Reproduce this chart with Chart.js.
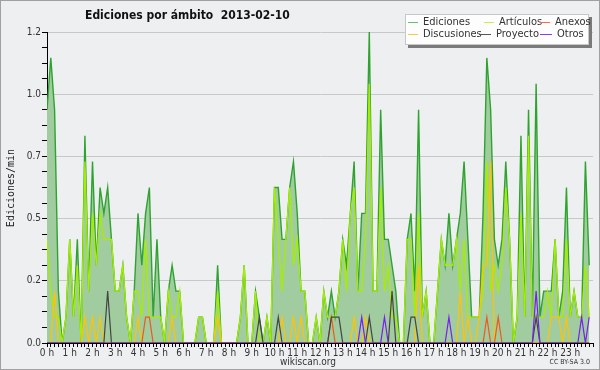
<!DOCTYPE html>
<html>
<head>
<meta charset="utf-8">
<script src="https://cdn.jsdelivr.net/npm/chart.js@4.4.1/dist/chart.umd.min.js"></script>
<style>
  html, body { margin: 0; padding: 0; background: #eeeff0; }
  canvas { display: block; }
</style>
</head>
<body>
<canvas id="myChart" width="600" height="370"></canvas>
<script>
const chartTitle = 'Ediciones por ámbito  2013-02-10';
const yTitle = 'Ediciones/min';
const xTitle = 'wikiscan.org';
const licence = 'CC BY-SA 3.0';
const stepMinutes = 10; // one value every 10 minutes, 144 per day

// edits per minute, one row = 4 hours
const ediciones = [
  .9,1.1,.9,.2,0,.1,.4,.1,.4,0,.8,.2,.7,.3,.6,.5,.6,.4,.2,.2,.3,.1,0,.2,
  .5,.3,.5,.6,.1,.4,.1,0,.2,.3,.2,.2,0,0,0,0,.1,.1,0,0,0,.3,0,0,
  0,0,0,.1,.3,0,0,.2,.1,0,.1,0,.6,.6,.4,.4,.6,.7,.5,.2,.2,0,0,.1,
  0,.2,.1,.2,.1,.2,.4,.3,.5,.7,.2,.5,.5,1.2,.2,.2,.9,.4,.4,.3,.2,0,0,.4,
  .5,.2,.9,.1,.2,0,0,.2,.4,.3,.5,.3,.4,.5,.7,.4,.1,.1,.1,.5,1.1,.9,.4,.3,
  .4,.7,.4,0,.1,.8,.1,.9,.1,1.0,.1,.2,.2,.2,.4,.1,.2,.6,.1,.2,.1,.1,.7,.3
];
const articulos = [
  .4,.2,.1,.1,0,.1,.4,.1,.3,0,.7,.2,.5,.3,.5,.4,.4,.4,.2,.2,.3,.1,0,.2,
  .2,.1,.4,.1,.1,.1,.1,0,.2,.1,.1,.2,0,0,0,0,.1,.1,0,0,0,.2,0,0,
  0,0,0,.1,.3,0,0,.2,0,0,.1,0,.6,.4,.2,.4,.6,.3,.4,.2,.2,0,0,.1,
  0,.2,.1,.1,.1,.2,.4,.2,.5,.6,.2,.2,.4,1.0,.2,.2,.6,.2,.3,.1,.1,0,0,.4,
  .4,.1,.5,.1,.2,0,0,.2,.4,.3,.3,.3,.4,.2,.4,.1,.1,.1,.1,.2,.7,.2,.3,.2,
  .3,.6,.4,0,.1,.5,.1,.8,.1,.1,.1,.1,.2,.1,.4,.1,.1,.4,.1,.2,.1,.1,.3,.1
];
const discusiones = [
  0,0,.2,0,0,0,0,0,0,0,.1,0,.1,0,.1,0,0,0,0,0,0,0,0,0,
  .1,0,0,0,0,0,0,0,0,.1,0,0,0,0,0,0,0,0,0,0,0,.1,0,0,
  0,0,0,0,0,0,0,0,0,0,0,0,0,0,.1,0,0,.1,0,.1,0,0,0,0,
  0,0,0,0,0,0,0,0,0,.1,0,0,.1,0,0,0,0,0,0,0,0,0,0,0,
  0,0,.3,0,0,0,0,0,0,0,0,0,0,.2,0,.1,0,0,.1,.3,.3,.7,0,0,
  0,0,0,0,0,0,0,0,0,0,0,0,0,.1,.1,.1,0,.1,0,0,0,0,0,0
];
const anexos = [
  0,0,0,0,0,0,0,0,0,0,0,0,0,0,0,0,0,0,0,0,0,0,0,0,
  0,0,.1,.1,0,0,0,0,0,0,0,0,0,0,0,0,0,0,0,0,0,0,0,0,
  0,0,0,0,0,0,0,0,0,0,0,0,0,0,0,0,0,0,0,0,0,0,0,0,
  0,0,0,.1,0,0,0,0,0,0,0,0,0,0,0,0,0,0,0,0,0,0,0,0,
  0,0,0,0,0,0,0,0,0,0,0,0,0,0,0,0,0,0,0,0,.1,0,0,.1,
  0,0,0,0,0,0,0,0,0,0,0,0,0,0,0,0,0,0,0,0,0,0,0,0
];
const proyecto = [
  0,0,0,0,0,0,0,0,0,0,0,0,0,0,0,0,.2,0,0,0,0,0,0,0,
  0,0,0,0,0,0,0,0,0,0,0,0,0,0,0,0,0,0,0,0,0,0,0,0,
  0,0,0,0,0,0,0,0,.1,0,0,0,0,.1,0,0,0,0,0,0,0,0,0,0,
  0,0,0,.1,.1,.1,0,0,0,0,0,0,0,.1,0,0,0,0,0,.2,0,0,0,0,
  .1,.1,0,0,0,0,0,0,0,0,0,0,0,0,0,0,0,0,0,0,0,0,0,0,
  0,0,0,0,0,0,0,0,0,.1,0,0,0,0,0,0,0,0,0,0,0,0,0,0
];
const otros = [
  0,0,0,0,0,0,0,0,0,0,0,0,0,0,0,0,0,0,0,0,0,0,0,0,
  0,0,0,0,0,0,0,0,0,0,0,0,0,0,0,0,0,0,0,0,0,0,0,0,
  0,0,0,0,0,0,0,0,0,0,0,0,0,0,0,0,0,0,0,0,0,0,0,0,
  0,0,0,0,0,0,0,0,0,0,0,.1,0,0,0,0,0,.1,0,0,0,0,0,0,
  0,0,0,0,0,0,0,0,0,0,.1,0,0,0,0,0,0,0,0,0,0,0,0,0,
  0,0,0,0,0,0,0,0,0,.2,0,0,0,0,0,0,0,0,0,0,0,.1,0,.1
];

// legend entries in the order of the box (row by row)
const legendItems = [
  { label: 'Ediciones', color: '#66c266', x: 408, y: 22, len: 10 },
  { label: 'Artículos', color: '#c8ee44', x: 484, y: 22, len: 10 },
  { label: 'Anexos', color: '#f07040', x: 540, y: 22, len: 10 },
  { label: 'Discusiones', color: '#f5cc33', x: 408, y: 34, len: 10 },
  { label: 'Proyecto', color: '#555555', x: 479, y: 34, len: 12 },
  { label: 'Otros', color: '#8a3cf0', x: 540, y: 34, len: 12 }
];

const condensed = "'DejaVu Sans Condensed', 'DejaVu Sans', sans-serif";
Chart.defaults.font.family = condensed;
Chart.defaults.font.size = 10;
Chart.defaults.color = '#333';

function toPoints(values) {
  return values.map((v, i) => ({ x: i * stepMinutes, y: v }));
}

function lineSet(label, values, color, order, width) {
  return {
    label,
    data: toPoints(values),
    borderColor: color,
    borderWidth: width,
    pointRadius: 0,
    tension: 0,
    fill: false,
    order, // higher order is drawn first (underneath)
  };
}

// draws background, frame, title, legend box and side texts
const decorPlugin = {
  id: 'decor',
  beforeDraw(chart) {
    const ctx = chart.ctx;
    ctx.save();
    ctx.fillStyle = '#eeeff0';
    ctx.fillRect(0, 0, chart.width, chart.height);
    ctx.restore();
  },
  afterDraw(chart) {
    const ctx = chart.ctx;
    ctx.save();
    ctx.strokeStyle = '#a0a0a0';
    ctx.lineWidth = 1;
    ctx.strokeRect(0.5, 0.5, chart.width - 1, chart.height - 1);

    ctx.fillStyle = '#111';
    ctx.textBaseline = 'middle';
    ctx.font = "bold 12px " + condensed;
    ctx.fillText(chartTitle, 85, 16);

    // legend box with shadow
    ctx.fillStyle = '#7a7a7a';
    ctx.fillRect(408, 17, 184, 31);
    ctx.fillStyle = '#fdfdfd';
    ctx.fillRect(405, 14, 184, 31);
    ctx.strokeStyle = '#c8c8c8';
    ctx.strokeRect(405.5, 14.5, 183, 30);
    ctx.font = "11px " + condensed;
    legendItems.forEach((item) => {
      ctx.strokeStyle = item.color;
      ctx.beginPath();
      ctx.moveTo(item.x, item.y + 0.5);
      ctx.lineTo(item.x + item.len, item.y + 0.5);
      ctx.stroke();
      ctx.fillStyle = '#333';
      ctx.fillText(item.label, item.x + item.len + 5, item.y);
    });

    // y axis title
    ctx.save();
    ctx.translate(11, 188);
    ctx.rotate(-Math.PI / 2);
    ctx.textAlign = 'center';
    ctx.fillStyle = '#222';
    ctx.font = "10px 'DejaVu Sans Mono', monospace";
    ctx.fillText(yTitle, 0, 0);
    ctx.restore();

    ctx.textAlign = 'center';
    ctx.fillStyle = '#333';
    ctx.font = "10px " + condensed;
    ctx.fillText(xTitle, 308, 362);
    ctx.textAlign = 'right';
    ctx.font = "7px " + condensed;
    ctx.fillText(licence, 590, 362);
    ctx.restore();
  }
};

const ctx = document.getElementById('myChart').getContext('2d');
new Chart(ctx, {
  type: 'line',
  data: {
    datasets: [
      {
        label: 'Ediciones',
        data: toPoints(ediciones),
        borderColor: '#2fa32f',
        backgroundColor: '#a0cca0',
        borderWidth: 1.4,
        pointRadius: 0,
        tension: 0,
        fill: 'origin',
        order: 6,
      },
      lineSet('Artículos', articulos, '#a6ee00', 5, 1.3),
      lineSet('Discusiones', discusiones, '#ffc400', 4, 1.2),
      lineSet('Anexos', anexos, '#ee5a1a', 3, 1.2),
      lineSet('Proyecto', proyecto, '#444444', 2, 1.2),
      lineSet('Otros', otros, '#7a1ff0', 1, 1.2),
    ],
  },
  options: {
    responsive: false,
    animation: false,
    layout: {
      padding: { left: 0, right: 7, top: 32, bottom: 0 },
    },
    plugins: {
      legend: { display: false },
      tooltip: { enabled: false },
    },
    scales: {
      x: {
        type: 'linear',
        min: 0,
        max: 1440,
        afterFit: (scale) => { scale.height = 27; },
        border: { color: '#000', width: 1 },
        grid: { drawOnChartArea: false, tickColor: '#000', tickLength: 4 },
        ticks: {
          stepSize: stepMinutes,
          autoSkip: false,
          maxRotation: 0,
          padding: 0,
          color: '#333',
          callback: (value) => (value % 60 === 0 && value < 1440 ? value / 60 + ' h' : ''),
        },
      },
      y: {
        min: 0,
        max: 1.2,
        afterFit: (scale) => { scale.width = 47; },
        border: { color: '#000', width: 1 },
        grid: {
          color: (c) => (c.index % 4 === 0 ? '#c8c8c8' : 'rgba(0,0,0,0)'),
          tickColor: '#000',
          tickLength: 5,
        },
        ticks: {
          stepSize: 0.06,
          autoSkip: false,
          padding: 1,
          color: '#333',
          callback: (value, index) => (index % 4 === 0 ? value.toFixed(1) : ''),
        },
      },
    },
  },
  plugins: [decorPlugin],
});
</script>
</body>
</html>
